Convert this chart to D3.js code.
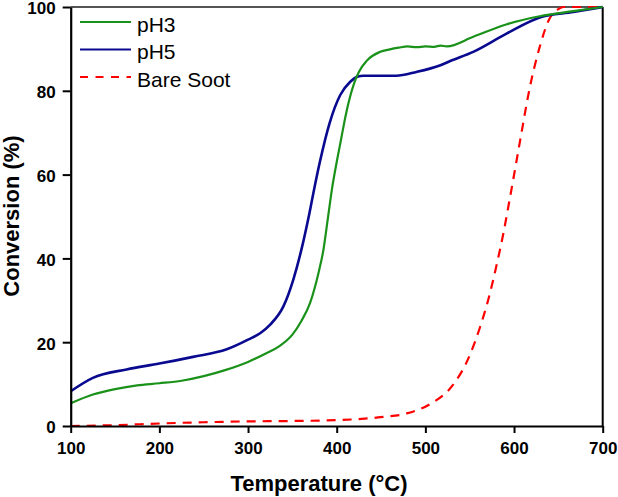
<!DOCTYPE html>
<html>
<head>
<meta charset="utf-8">
<script src="https://cdn.jsdelivr.net/npm/d3@7"></script>
<style>
  body { margin: 0; background: #fff; }
  svg { display: block; font-family: Arial, "Liberation Sans", sans-serif; }
</style>
</head>
<body>
<div id="chart"></div>
<script>
// temperature (°C) / conversion (%)
let ph3Temp = [100, 125, 150, 175, 200, 225, 250, 275, 300, 320, 335, 350, 360, 370, 380, 385, 390, 395, 400, 405, 410, 415, 420, 425, 434, 449, 460, 470, 480, 490, 500, 510, 517, 524, 554, 592, 629, 667, 700];
let ph3Conv = [5.4, 7.5, 8.8, 9.7, 10.2, 10.8, 11.9, 13.4, 15.3, 17.3, 19.0, 21.8, 25.0, 29.4, 37.0, 42.0, 49.5, 57.0, 63.0, 68.5, 74.0, 78.5, 82.0, 84.5, 87.2, 89.3, 89.9, 90.3, 90.6, 90.4, 90.6, 90.5, 90.8, 90.6, 92.9, 95.9, 97.8, 99.0, 100];

let ph5Temp = [100, 125, 163, 200, 238, 276, 300, 314, 325, 340, 351, 362, 368, 375, 381, 392, 404, 415, 424, 430, 467, 490, 517, 528, 554, 592, 629, 667, 700];
let ph5Conv = [8.3, 11.5, 13.5, 14.9, 16.5, 18.3, 20.6, 22.2, 24.2, 28.6, 34.9, 43.7, 49.5, 57.0, 63.0, 72.3, 79.0, 82.1, 83.4, 83.6, 83.6, 84.5, 86.1, 87.1, 89.3, 93.7, 97.5, 98.8, 100];

let sootTemp = [100, 150, 200, 250, 300, 350, 400, 449, 479, 505, 530, 548, 562, 571, 580, 588, 595, 603, 607, 618, 629, 639, 650, 656, 700];
let sootConv = [0, 0.2, 0.6, 0.9, 1.1, 1.2, 1.4, 2.1, 3.0, 5.2, 9.5, 15.9, 23.8, 30.2, 38.1, 46.0, 54.0, 63.5, 68.3, 81.0, 90.5, 96.8, 99.5, 100, 100];

let seriesNames = ["pH3", "pH5", "Bare Soot"];
let xTicks = [100, 200, 300, 400, 500, 600, 700];
let yTicks = [0, 20, 40, 60, 80, 100];

let width = 618, height = 497;
let plotLeft = 70.7, plotRight = 602.7, plotTop = 7, plotBottom = 426;

let svg = d3.select("#chart")
	.append("svg")
	.attr("width", width)
	.attr("height", height);

let xScale = d3.scaleLinear().domain([100, 700]).range([plotLeft, plotRight]);
let yScale = d3.scaleLinear().domain([0, 100]).range([plotBottom, plotTop]);

let colors = { "pH3": "#1a921a", "pH5": "#0a0a90", "Bare Soot": "#ff0000" };

// frame: gray top, black right
svg.append("line")
	.attr("x1", plotLeft).attr("x2", plotRight)
	.attr("y1", plotTop).attr("y2", plotTop)
	.attr("stroke", "#555").attr("stroke-width", 2);
svg.append("line")
	.attr("x1", plotRight).attr("x2", plotRight)
	.attr("y1", plotTop).attr("y2", plotBottom)
	.attr("stroke", "#000").attr("stroke-width", 2);

let line = d3.line()
	.x(d => xScale(d[0]))
	.y(d => yScale(d[1]))
	.curve(d3.curveMonotoneX);

let sootData = d3.zip(sootTemp, sootConv);
let ph5Data = d3.zip(ph5Temp, ph5Conv);
let ph3Data = d3.zip(ph3Temp, ph3Conv);

svg.append("path")
	.datum(sootData)
	.attr("d", line)
	.attr("fill", "none")
	.attr("stroke", colors["Bare Soot"])
	.attr("stroke-width", 2.2)
	.attr("stroke-dasharray", "9 7");

svg.append("path")
	.datum(ph5Data)
	.attr("d", line)
	.attr("fill", "none")
	.attr("stroke", colors["pH5"])
	.attr("stroke-width", 2.6);

svg.append("path")
	.datum(ph3Data)
	.attr("d", line)
	.attr("fill", "none")
	.attr("stroke", colors["pH3"])
	.attr("stroke-width", 2.2);

// axes
let xAxis = d3.axisBottom(xScale).tickValues(xTicks).tickSize(7).tickSizeOuter(0).tickPadding(5);
let yAxis = d3.axisLeft(yScale).tickValues(yTicks).tickSize(8).tickSizeOuter(0).tickPadding(7);

let gx = svg.append("g")
	.attr("transform", `translate(0, ${plotBottom})`)
	.call(xAxis);
let gy = svg.append("g")
	.attr("transform", `translate(${plotLeft}, 0)`)
	.call(yAxis);

[gx, gy].forEach(g => {
	g.select(".domain").attr("stroke", "#000").attr("stroke-width", 2.2);
	g.selectAll(".tick line").attr("stroke", "#000").attr("stroke-width", 2);
	g.selectAll(".tick text")
		.attr("fill", "#000")
		.style("font-size", "17px")
		.style("font-weight", "bold")
		.style("font-family", "Arial, 'Liberation Sans', sans-serif");
});
gx.selectAll(".tick text").attr("dy", "0.95em");
gy.selectAll(".tick text").attr("dy", "0.4em");

// axis titles
svg.append("text")
	.attr("x", 319)
	.attr("y", 491)
	.attr("text-anchor", "middle")
	.style("font-size", "22px")
	.style("font-weight", "bold")
	.text("Temperature (\u00B0C)");

svg.append("text")
	.attr("transform", "translate(19, 216) rotate(-90)")
	.attr("text-anchor", "middle")
	.style("font-size", "22px")
	.style("font-weight", "bold")
	.text("Conversion (%)");

// legend
let legendY = [22, 49.5, 77];
let legend = svg.selectAll(".legend")
	.data(seriesNames)
	.enter()
	.append("g")
	.attr("class", "legend")
	.attr("transform", (d, i) => `translate(0, ${legendY[i]})`);

legend.append("line")
	.attr("x1", 80).attr("x2", 131)
	.attr("y1", 0).attr("y2", 0)
	.attr("stroke", d => colors[d])
	.attr("stroke-width", 2.2)
	.attr("stroke-dasharray", d => d == "Bare Soot" ? "8 7.5" : null);

legend.append("text")
	.attr("x", 137)
	.attr("y", 9.5)
	.style("font-size", "21px")
	.attr("fill", "#000")
	.text(d => d);
</script>
</body>
</html>
